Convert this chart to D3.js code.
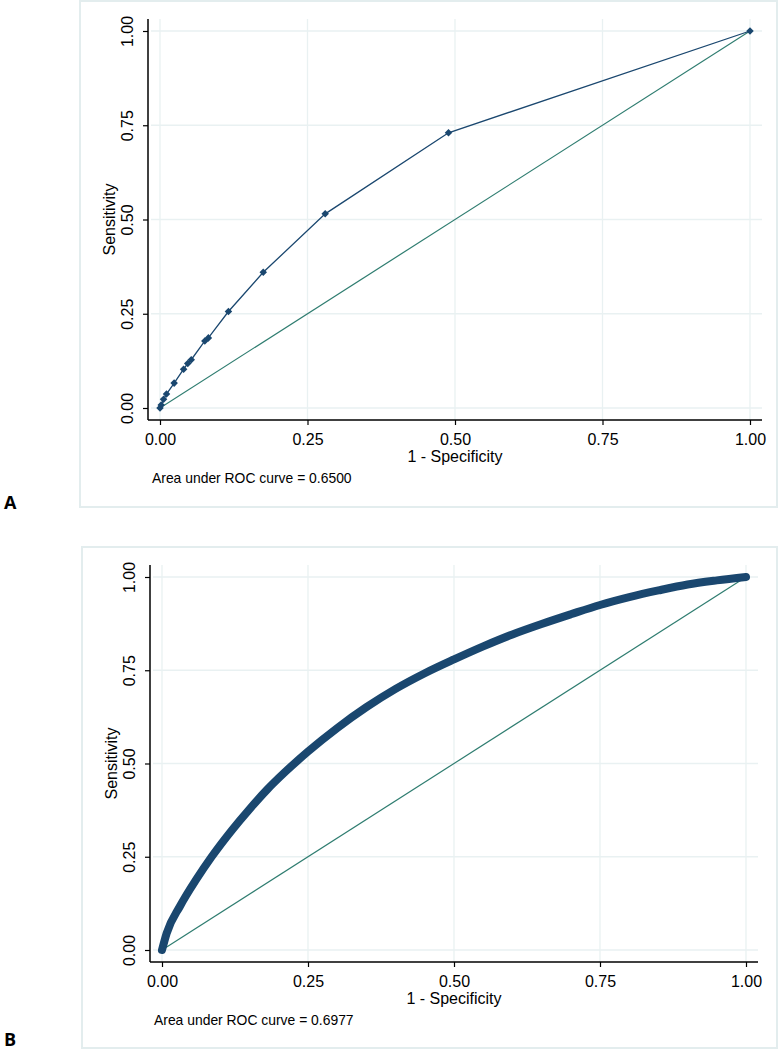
<!DOCTYPE html>
<html>
<head>
<meta charset="utf-8">
<script src="https://cdn.jsdelivr.net/npm/d3@7"></script>
<style>
  html, body { margin: 0; padding: 0; background: #ffffff; }
  svg { display: block; font-family: "Liberation Sans", Arial, sans-serif; }
</style>
</head>
<body>
<svg id="chart" width="780" height="1050"></svg>
<script>
// ---- Data ----
const tickValues = [0, 0.25, 0.5, 0.75, 1];
const tickLabels = ["0.00", "0.25", "0.50", "0.75", "1.00"];
const xTitle = "1 - Specificity";
const yTitle = "Sensitivity";

// Panel A ROC points
const fprA = [0, 0.002, 0.006, 0.011, 0.024, 0.040, 0.047, 0.053, 0.076, 0.082, 0.116, 0.175, 0.280, 0.489, 1];
const tprA = [0, 0.008, 0.023, 0.037, 0.066, 0.103, 0.118, 0.128, 0.178, 0.186, 0.256, 0.360, 0.515, 0.730, 1];
const aucA = "Area under ROC curve = 0.6500";

// Panel B ROC points (dense curve)
const fprB = [0, 0.008, 0.031, 0.059, 0.085, 0.12, 0.15, 0.18, 0.21, 0.25, 0.30, 0.35, 0.40, 0.45, 0.50, 0.55, 0.60, 0.65, 0.70, 0.75, 0.80, 0.85, 0.90, 0.95, 1.0];
const tprB = [0, 0.045, 0.118, 0.190, 0.250, 0.322, 0.378, 0.430, 0.476, 0.532, 0.595, 0.651, 0.700, 0.742, 0.779, 0.814, 0.846, 0.874, 0.900, 0.925, 0.946, 0.964, 0.980, 0.991, 1.0];
const aucB = "Area under ROC curve = 0.6977";

const panelLetters = ["A", "B"];

// ---- Drawing ----
const svg = d3.select("#chart");
const NAVY = "#1a476f";
const REF = "#2f7d70";
const GRID = "#e9f1f2";
const FRAME = "#e3edee";

const panels = [
  { letter: panelLetters[0], fpr: fprA, tpr: tprA, auc: aucA, thick: false,
    frame: [80, 1, 777, 507], plot: [148, 19, 762, 420], xr: [160, 750], yr: [408, 31],
    letterY: 509 },
  { letter: panelLetters[1], fpr: fprB, tpr: tprB, auc: aucB, thick: true,
    frame: [82, 547, 777, 1048], plot: [150, 565, 758, 962], xr: [162, 746], yr: [950, 577],
    letterY: 1046 }
];

panels.forEach(p => {
  const g = svg.append("g");
  const [fx0, fy0, fx1, fy1] = p.frame;
  g.append("rect").attr("x", fx0).attr("y", fy0).attr("width", fx1 - fx0).attr("height", fy1 - fy0)
    .attr("fill", "#fff").attr("stroke", FRAME).attr("stroke-width", 2);

  const [px0, py0, px1, py1] = p.plot;
  const x = d3.scaleLinear().domain([0, 1]).range(p.xr);
  const y = d3.scaleLinear().domain([0, 1]).range(p.yr);

  // gridlines
  g.selectAll(".vg").data(tickValues).enter().append("line")
    .attr("x1", d => x(d)).attr("x2", d => x(d)).attr("y1", py0).attr("y2", py1)
    .attr("stroke", GRID).attr("stroke-width", 1.3);
  g.selectAll(".hg").data(tickValues).enter().append("line")
    .attr("x1", px0 + 3).attr("x2", px1).attr("y1", d => y(d)).attr("y2", d => y(d))
    .attr("stroke", GRID).attr("stroke-width", 1.3);

  // axes
  const xAxis = d3.axisBottom(x).tickValues(tickValues).tickFormat((d, i) => tickLabels[i])
    .tickSizeOuter(0).tickSize(5).tickPadding(9);
  const gx = g.append("g").attr("transform", `translate(0,${py1})`).call(xAxis);
  gx.select(".domain").remove();
  gx.selectAll("line").attr("stroke", "#000").attr("stroke-width", 1.2);
  gx.selectAll("text").attr("font-size", 16).attr("fill", "#000")
    .attr("font-family", "'Liberation Sans', Arial, sans-serif").attr("dy", "0.71em");

  const yAxis = d3.axisLeft(y).tickValues(tickValues).tickFormat((d, i) => tickLabels[i])
    .tickSizeOuter(0).tickSize(5);
  const gy = g.append("g").attr("transform", `translate(${px0},0)`).call(yAxis);
  gy.select(".domain").remove();
  gy.selectAll("line").attr("stroke", "#000").attr("stroke-width", 1.2);
  gy.selectAll("text")
    .attr("font-size", 16).attr("fill", "#000")
    .attr("font-family", "'Liberation Sans', Arial, sans-serif")
    .attr("x", null).attr("dy", null)
    .attr("text-anchor", "middle")
    .attr("transform", "translate(-15,0) rotate(-90)");

  // axis lines
  g.append("line").attr("x1", px0).attr("x2", px1).attr("y1", py1).attr("y2", py1)
    .attr("stroke", "#000").attr("stroke-width", 1.5);
  g.append("line").attr("x1", px0).attr("x2", px0).attr("y1", py0).attr("y2", py1)
    .attr("stroke", "#000").attr("stroke-width", 1.5);

  // titles
  g.append("text").attr("x", (p.xr[0] + p.xr[1]) / 2).attr("y", py1 + 42)
    .attr("text-anchor", "middle").attr("font-size", 16).text(xTitle);
  g.append("text")
    .attr("transform", `translate(${px0 - 33},${(p.yr[0] + p.yr[1]) / 2}) rotate(-90)`)
    .attr("text-anchor", "middle").attr("font-size", 16).text(yTitle);

  // AUC note
  g.append("text").attr("x", px0 + 4).attr("y", py1 + 63)
    .attr("font-size", 13.9).text(p.auc);

  // reference diagonal
  g.append("line").attr("x1", x(0)).attr("y1", y(0)).attr("x2", x(1)).attr("y2", y(1))
    .attr("stroke", REF).attr("stroke-width", 1.2);

  const pts = p.fpr.map((f, i) => [f, p.tpr[i]]);
  const line = d3.line().x(d => x(d[0])).y(d => y(d[1]));

  if (p.thick) {
    line.curve(d3.curveMonotoneX);
    g.append("path").attr("d", line(pts)).attr("fill", "none")
      .attr("stroke", NAVY).attr("stroke-width", 8)
      .attr("stroke-linecap", "round").attr("stroke-linejoin", "round");
  } else {
    g.append("path").attr("d", line(pts)).attr("fill", "none")
      .attr("stroke", NAVY).attr("stroke-width", 1.3);
    const diamond = d3.symbol().type(d3.symbolDiamond2).size(36);
    g.selectAll(".pt").data(pts).enter().append("path")
      .attr("d", diamond)
      .attr("transform", d => `translate(${x(d[0])},${y(d[1])})`)
      .attr("fill", NAVY);
  }

  // panel letter
  svg.append("text").attr("x", 4).attr("y", p.letterY)
    .attr("font-size", 18).attr("font-weight", "bold")
    .attr("font-family", "'Open Sans', 'Liberation Sans', Arial, sans-serif")
    .text(p.letter);
});
</script>
</body>
</html>
